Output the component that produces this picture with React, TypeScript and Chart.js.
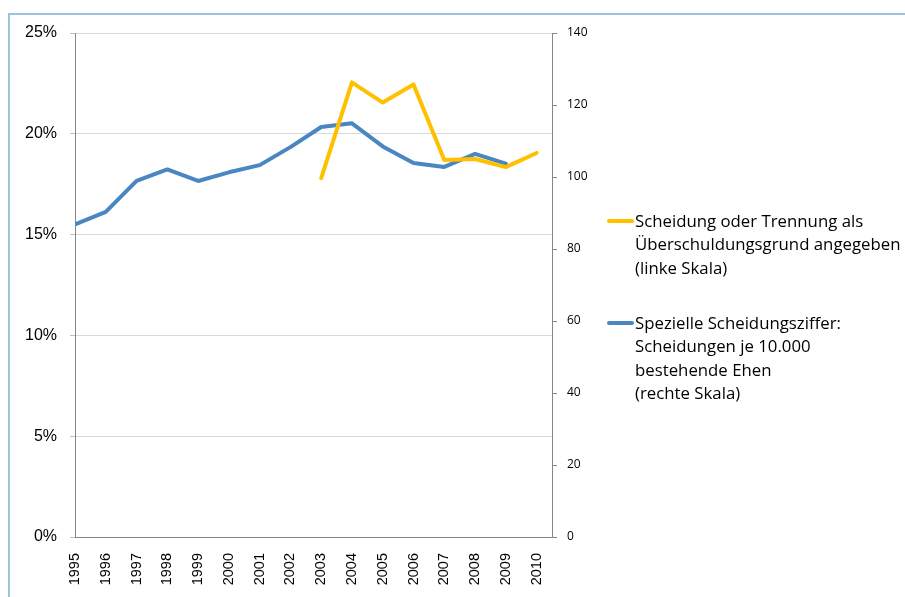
import React, { useEffect, useRef } from 'react';
import { Chart, registerables } from 'chart.js';

Chart.register(...registerables);

const years = [1995, 1996, 1997, 1998, 1999, 2000, 2001, 2002, 2003, 2004, 2005, 2006, 2007, 2008, 2009, 2010];
// left scale, percent
const trennungAlsGrund = [null, null, null, null, null, null, null, null, 17.8, 22.55, 21.55, 22.45, 18.7, 18.75, 18.35, 19.05];
// right scale, per 10,000 marriages
const scheidungsziffer = [86.8, 90.3, 98.9, 102.1, 98.9, 101.3, 103.3, 108.3, 113.9, 114.9, 108.5, 103.9, 102.8, 106.4, 103.7, null];

const leftTickStep = 5;
const leftMax = 25;
const rightTickStep = 20;
const rightMax = 140;

const legendYellow = ['Scheidung oder Trennung als', 'Überschuldungsgrund angegeben', '(linke Skala)'];
const legendBlue = ['Spezielle Scheidungsziffer:', 'Scheidungen je 10.000', 'bestehende Ehen', '(rechte Skala)'];

const YELLOW = '#FFC000';
const BLUE = '#4A86C2';

export default function App() {
  const ref = useRef<HTMLCanvasElement | null>(null);

  useEffect(() => {
    const prevOverflow = document.documentElement.style.overflow;
    document.documentElement.style.overflow = 'hidden';
    const ctx = ref.current!;
    const chart = new Chart(ctx, {
      type: 'line',
      data: {
        datasets: [
          {
            label: legendYellow.join(' '),
            data: years.map((x, i) => ({ x, y: trennungAlsGrund[i] as any })),
            borderColor: YELLOW,
            backgroundColor: YELLOW,
            borderWidth: 4,
            pointRadius: 0,
            tension: 0,
            spanGaps: false,
            borderCapStyle: 'round',
            borderJoinStyle: 'round',
            yAxisID: 'y',
          },
          {
            label: legendBlue.join(' '),
            data: years.map((x, i) => ({ x, y: scheidungsziffer[i] as any })),
            borderColor: BLUE,
            backgroundColor: BLUE,
            borderWidth: 4,
            pointRadius: 0,
            tension: 0,
            spanGaps: false,
            borderCapStyle: 'round',
            borderJoinStyle: 'round',
            yAxisID: 'y1',
          },
        ],
      },
      options: {
        responsive: false,
        animation: false,
        devicePixelRatio: 1,
        layout: { padding: { top: 33, left: 0, right: 0, bottom: 0 } },
        plugins: { legend: { display: false }, tooltip: { enabled: false } },
        scales: {
          x: {
            type: 'linear',
            min: years[0],
            max: years[years.length - 1] + 0.5,
            afterFit: (s: any) => { s.height = 60; },
            grid: { display: false, drawTicks: false },
            border: { display: true, color: '#868686', width: 1 },
            ticks: {
              stepSize: 1,
              includeBounds: false,
              autoSkip: false,
              minRotation: 90,
              maxRotation: 90,
              padding: 16,
              color: '#000',
              font: { family: 'Liberation Sans', size: 14.5 },
              callback: (v: any) => String(v),
            },
          },
          y: {
            position: 'left',
            min: 0,
            max: leftMax,
            afterFit: (s: any) => { s.width = 75; },
            ticks: {
              stepSize: leftTickStep,
              padding: 13,
              color: '#000',
              font: { family: 'Liberation Sans', size: 16 },
              callback: (v: any) => v + '%',
            },
            grid: { color: '#D9D9D9', tickColor: '#BFBFBF', tickLength: 5 },
            border: { display: true, color: '#868686', width: 1 },
          },
          y1: {
            position: 'right',
            min: 0,
            max: rightMax,
            afterFit: (s: any) => { s.width = 353; },
            ticks: {
              stepSize: rightTickStep,
              padding: 10,
              color: '#000',
              font: { family: 'Open Sans', size: 12 },
            },
            grid: { drawOnChartArea: false, tickLength: 5, color: '#868686' },
            border: { display: true, color: '#868686', width: 1 },
          },
        },
      },
    } as any);
    return () => {
      chart.destroy();
      document.documentElement.style.overflow = prevOverflow;
    };
  }, []);

  const textStyle: React.CSSProperties = {
    position: 'fixed',
    left: 635,
    fontFamily: '"Open Sans", sans-serif',
    fontSize: 16.8,
    lineHeight: '23.3px',
    color: '#000',
    whiteSpace: 'nowrap',
    margin: 0,
  };

  return (
    <div>
      <div
        style={{
          position: 'fixed',
          left: 8,
          top: 13,
          width: 920,
          height: 620,
          borderLeft: '2px solid #9CC3DA',
          borderTop: '2px solid #9CC3DA',
          boxSizing: 'border-box',
        }}
      />
      <canvas
        ref={ref}
        width={905}
        height={597}
        style={{ position: 'fixed', left: 0, top: 0, width: 905, height: 597 }}
      />
      <div style={{ position: 'fixed', left: 607, top: 219, width: 27, height: 4, background: YELLOW, borderRadius: 2 }} />
      <div style={{ ...textStyle, top: 209 }}>
        {legendYellow.map((t, i) => (
          <div key={i}>{t}</div>
        ))}
      </div>
      <div style={{ position: 'fixed', left: 607, top: 321, width: 27, height: 4, background: BLUE, borderRadius: 2 }} />
      <div style={{ ...textStyle, top: 311 }}>
        {legendBlue.map((t, i) => (
          <div key={i}>{t}</div>
        ))}
      </div>
    </div>
  );
}
